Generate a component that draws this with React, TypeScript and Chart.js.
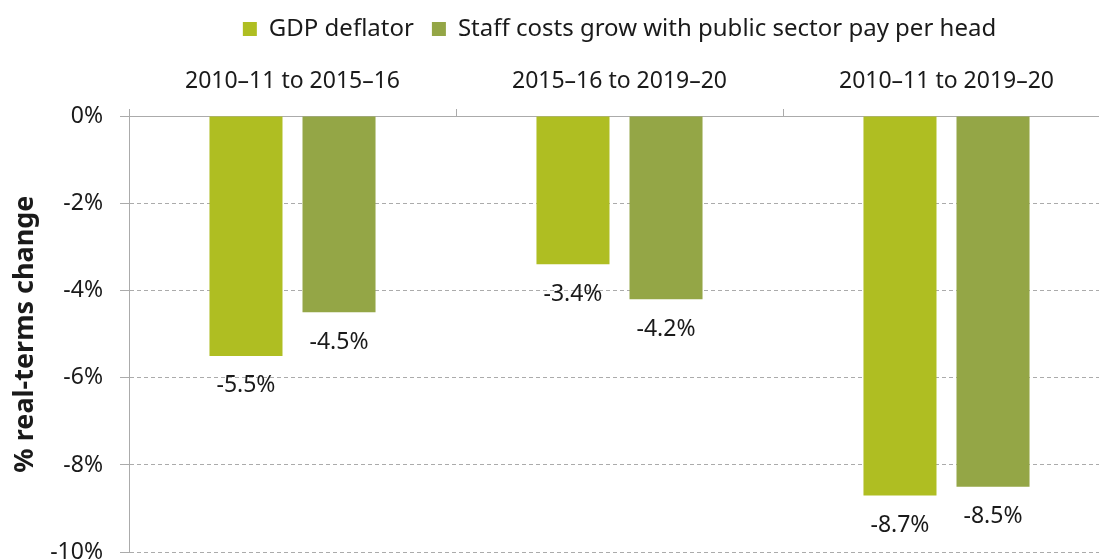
import React, { useEffect, useRef } from "react";
import { Chart, registerables } from "chart.js";

Chart.register(...registerables);

const categories = ["2010–11 to 2015–16", "2015–16 to 2019–20", "2010–11 to 2019–20"];
const seriesNames = ["GDP deflator", "Staff costs grow with public sector pay per head"];
const gdpDeflator = [-5.5, -3.4, -8.7];
const staffCosts = [-4.5, -4.2, -8.5];
const seriesColors = ["#AFBE22", "#94A646"];
const yMin = -10;
const yMax = 0;
const yStep = 2;

const FONT = "'Noto Sans', 'Open Sans', sans-serif";
const TEXT = "#1a1a1a";
const GRID = "#ababab";

const labelPlugin = {
  id: "barLabels",
  afterDatasetsDraw(chart: any) {
    const ctx = chart.ctx;
    ctx.save();
    ctx.font = `23px ${FONT}`;
    ctx.fillStyle = TEXT;
    ctx.textAlign = "center";
    ctx.textBaseline = "middle";
    chart.data.datasets.forEach((ds: any, di: number) => {
      const meta = chart.getDatasetMeta(di);
      meta.data.forEach((bar: any, i: number) => {
        const v = ds.data[i];
        ctx.fillText(`${v.toFixed(1)}%`, bar.x, bar.y + 30);
      });
    });
    ctx.restore();
  },
};

export default function App() {
  const ref = useRef<HTMLCanvasElement | null>(null);
  useEffect(() => {
    document.body.style.margin = "0";
    const c = ref.current!;
    const chart = new Chart(c, {
      type: "bar",
      data: {
        labels: categories,
        datasets: [
          { label: seriesNames[0], data: gdpDeflator, backgroundColor: seriesColors[0] },
          { label: seriesNames[1], data: staffCosts, backgroundColor: seriesColors[1] },
        ],
      },
      options: {
        responsive: false,
        animation: false,
        devicePixelRatio: 1,
        categoryPercentage: 0.569,
        barPercentage: 0.785,
        layout: { padding: { left: 8, right: 5, top: -1, bottom: 0 } },
        plugins: {
          legend: {
            position: "top",
            fullSize: false,
            labels: {
              font: { family: FONT, size: 24 },
              color: TEXT,
              boxWidth: 14,
              boxHeight: 14,
              padding: 18,
            },
          },
          tooltip: { enabled: false },
        },
        scales: {
          x: {
            position: "top",
            grid: {
              offset: true,
              drawOnChartArea: false,
              drawTicks: true,
              tickLength: 7,
              color: GRID,
            },
            border: { display: true, color: GRID, width: 1 },
            ticks: { font: { family: FONT, size: 23 }, color: TEXT, padding: 14 },
            afterFit(scale: any) {
              scale.height = 65;
            },
          },
          y: {
            min: yMin,
            max: yMax,
            ticks: {
              stepSize: yStep,
              font: { family: FONT, size: 23 },
              color: TEXT,
              padding: 17,
              callback: (v: any) => `${v}%`,
            },
            grid: { color: GRID, tickLength: 9 },
            border: { display: true, color: GRID, dash: [4, 3] },
            title: {
              display: true,
              text: "% real-terms change",
              font: { family: FONT, size: 27, weight: "bold" },
              color: TEXT,
              padding: 1,
            },
            afterFit(scale: any) {
              scale.width = 121;
            },
          },
        },
      },
      plugins: [labelPlugin],
    });
    return () => chart.destroy();
  }, []);
  return (
    <div style={{ width: 1099, height: 559, overflow: "hidden", position: "relative" }}>
      <canvas ref={ref} width={1115} height={583} style={{ display: "block" }} />
    </div>
  );
}
